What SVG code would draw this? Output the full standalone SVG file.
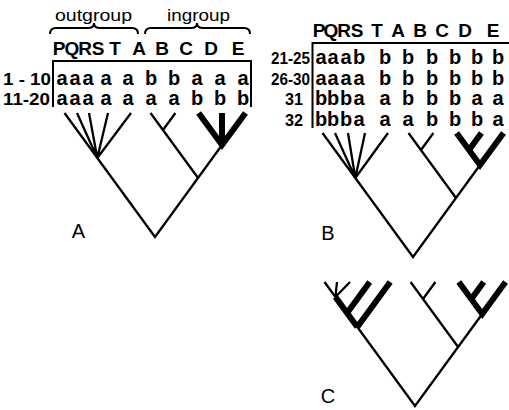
<svg xmlns="http://www.w3.org/2000/svg" width="509" height="410" viewBox="0 0 509 410">
<style>
.t{font-family:"Liberation Sans",Arial,sans-serif;fill:#000}
.hd{font-size:19px;font-weight:bold;text-anchor:middle}
.cell{font-size:20px;font-weight:bold;text-anchor:middle}
.lab{font-size:17px;font-weight:bold}
.grp{font-size:17px}
.pl{font-size:20px;text-anchor:middle}
.ln{fill:none;stroke:#000;stroke-width:2.3;stroke-linejoin:miter}
.thk{fill:none;stroke:#000;stroke-width:6;stroke-linejoin:miter}
.box{fill:none;stroke:#000;stroke-width:2}
</style>
<rect width="509" height="410" fill="#fff"/>
<g id="panelA-header">
<text class="t grp" x="55" y="21" textLength="77" lengthAdjust="spacingAndGlyphs">outgroup</text>
<text class="t grp" x="167" y="21" textLength="63" lengthAdjust="spacingAndGlyphs">ingroup</text>
<path class="box" d="M50,34 Q50,28 56,28 L88,28 Q94,28 94,23 Q94,28 100,28 L132,28 Q138,28 138,34"/>
<path class="box" d="M145,34 Q145,28 151,28 L191,28 Q197,28 197,23 Q197,28 203,28 L244,28 Q250,28 250,34"/>
<text class="t hd" y="55" x="59 72 85 98 115 139 162 186 211 238">PQRSTABCDE</text>
</g>
<g id="panelA-table">
<path class="box" d="M53,107 L53,61 L251,61 L251,107"/>
<text class="t lab" x="3" y="85" textLength="48" lengthAdjust="spacingAndGlyphs">1 - 10</text>
<text class="t lab" x="3" y="105" textLength="47" lengthAdjust="spacingAndGlyphs">11-20</text>
<text class="t cell" y="85" x="62 75 88 106 128 151 174 197 220 243">aaaaabbaaa</text>
<text class="t cell" y="105" x="62 75 88 106 128 151 174 197 220 243">aaaaaaabbb</text>
</g>
<g id="panelB-table">
<text class="t hd" y="37" x="319 331 344 357 377 398 420 442 465 493">PQRSTABCDE</text>
<path class="box" d="M312.5,128 L312.5,43 L509,43"/>
<text class="t lab" x="271" y="64" textLength="39" lengthAdjust="spacingAndGlyphs">21-25</text>
<text class="t lab" x="271" y="85" textLength="39" lengthAdjust="spacingAndGlyphs">26-30</text>
<text class="t lab" x="285" y="105" textLength="18" lengthAdjust="spacingAndGlyphs">31</text>
<text class="t lab" x="285" y="126" textLength="18" lengthAdjust="spacingAndGlyphs">32</text>
<text class="t cell" y="64" x="321 333 346 359 385 408 432 455 477 498">aaabbbbbbb</text>
<text class="t cell" y="85" x="321 333 346 359 385 408 432 455 477 498">aaaabbbbbb</text>
<text class="t cell" y="105" x="321 333 346 359 385 408 432 455 477 498">bbbaabbbaa</text>
<text class="t cell" y="126" x="321 333 346 359 385 408 432 455 477 498">bbbaaabbba</text>
</g>
<g id="connectors">
<g id="treeA">
<path class="ln" d="M64.5,113 L155,237 L222,145"/>
<path class="ln" d="M97.3,158 L77,113 M97.3,158 L89,113 M97.3,158 L108,113 M97.3,158 L131,113"/>
<path class="ln" d="M198.1,178 L150.5,113 M163,130 L175.4,113"/>
<path class="thk" d="M198.6,113 L222,145 L245.5,113 M222,145 L222,113"/>
</g>
<g id="treeB">
<path class="ln" d="M322.5,133 L413,257 L480,165"/>
<path class="ln" d="M355.3,178 L335,133 M355.3,178 L348,133 M355.3,178 L365,133 M355.3,178 L388,133"/>
<path class="ln" d="M456,198 L408.5,133 M421,150 L433.4,133"/>
<path class="thk" d="M456.6,133 L480,165 L503.5,133 M469,150 L481.4,133"/>
</g>
<g id="treeC">
<path class="ln" d="M324.5,282 L415,406 L482.2,314"/>
<path class="ln" d="M335.4,297 L337,282 M335.4,297 L350,282"/>
<path class="thk" d="M335.4,297 L357.3,327 M347.1,313 L369.7,282 M357.3,327 L390.2,282"/>
<path class="ln" d="M458.1,347 L410.6,282 M423,299 L435.4,282"/>
<path class="thk" d="M458.8,282 L482.2,314 L505.5,282 M471.3,299 L483.7,282"/>
</g>
</g>
<g id="labels">
<text class="t pl" x="78.5" y="238">A</text>
<text class="t pl" x="328" y="240">B</text>
<text class="t pl" x="328" y="403">C</text>
</g>
</svg>
